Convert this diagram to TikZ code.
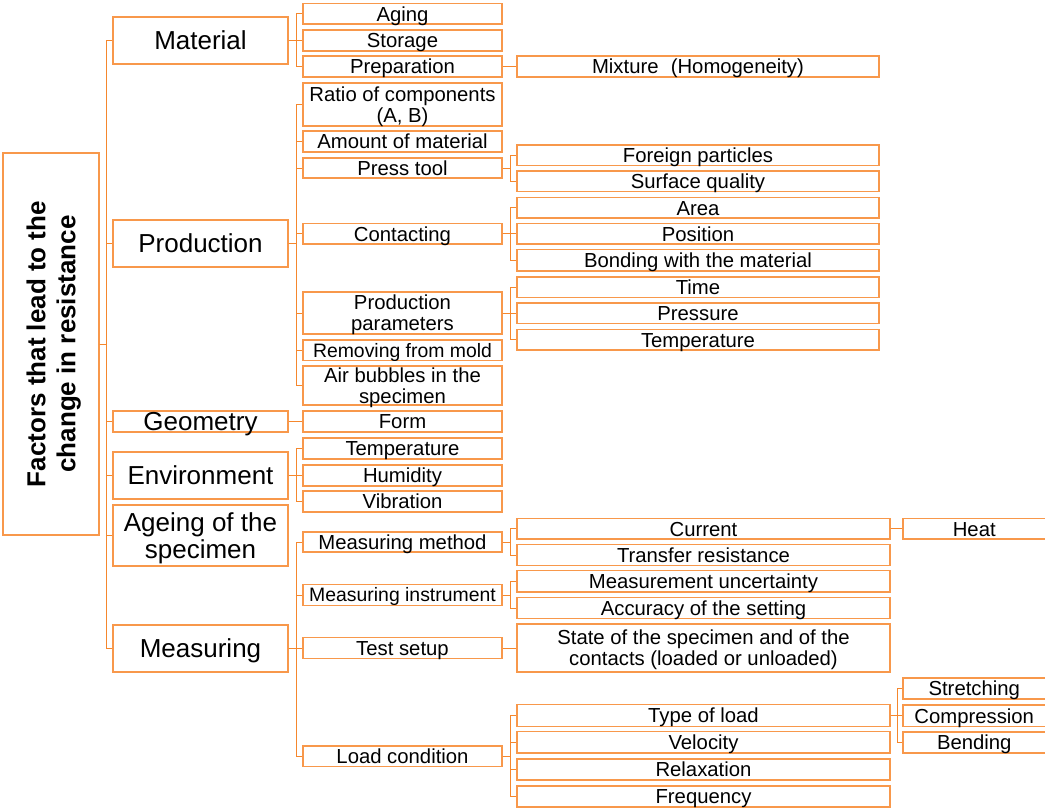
\documentclass[tikz,border=0pt]{standalone}
\usepackage{fontspec}
\setmainfont{Liberation Sans}
\definecolor{boxor}{RGB}{248,152,75}
\definecolor{lineor}{RGB}{245,135,45}
\newcommand{\mkbox}[7]{%
  \pgfmathsetmacro\bxcx{(#3+#4)/2}\pgfmathsetmacro\bxcy{(#5+#6)/2}%
  \pgfmathsetmacro\bxw{#4-#3}\pgfmathsetmacro\bxh{#6-#5}%
  \node[#1, minimum width=\bxw pt, minimum height=\bxh pt] (#2) at (\bxcx,\bxcy) {#7};}
\tikzset{
  boxbase/.style={draw=boxor, line width=1.2pt, inner sep=0pt, align=center},
  bxa/.style={boxbase, font=\fontsize{20.3}{21.3}\selectfont, text height=14.5pt, text depth=0pt},
  bxas/.style={bxa, font=\fontsize{19.4}{21.3}\selectfont, text height=13.9pt},
  bxa2/.style={bxa, text height=35.8pt},
  bxb/.style={boxbase, font=\fontsize{26}{27.5}\selectfont, text height=18.6pt, text depth=0pt},
  bxb2/.style={bxb, text height=46.1pt},
  rootbox/.style={boxbase},
  roottext/.style={rotate=90, inner sep=0pt, align=center, font=\bfseries\fontsize{26}{30}\selectfont, text height=48.6pt, text depth=0pt},
  conn/.style={draw=lineor, line width=1pt},
}
\begin{document}
\begin{tikzpicture}[x=1pt,y=-1pt]
\useasboundingbox (0,0) rectangle (1045,809);
% root
\mkbox{rootbox}{root}{3}{99}{153}{535}{}
\node[roottext] (rtxt) at (root.center) {Factors that lead to the\\change in resistance};
% level 1
\mkbox{bxb}{mat}{113}{288}{17}{64}{Material}
\mkbox{bxb}{prod}{113}{288}{220}{267}{Production}
\mkbox{bxb}{geo}{113}{288}{411}{432}{Geometry}
\mkbox{bxb}{env}{113}{288}{452}{499}{Environment}
\mkbox{bxb2}{age}{113}{288}{505}{566}{Ageing of the\\specimen}
\mkbox{bxb}{meas}{113}{288}{625}{672}{Measuring}
% level 2
\mkbox{bxa}{aging}{303}{502}{3.5}{24}{Aging}
\mkbox{bxa}{stor}{303}{502}{30}{51}{Storage}
\mkbox{bxa}{prep}{303}{502}{56}{77}{Preparation}
\mkbox{bxa2}{ratio}{303}{502}{83}{126}{Ratio of components\\(A, B)}
\mkbox{bxa}{amount}{303}{502}{131}{152}{Amount of material}
\mkbox{bxa}{press}{303}{502}{158}{178}{Press tool}
\mkbox{bxa}{cont}{303}{502}{223.5}{244}{Contacting}
\mkbox{bxa2}{pp}{303}{502}{292}{334}{Production\\parameters}
\mkbox{bxas}{rem}{303}{502}{340}{360.5}{Removing from mold}
\mkbox{bxa2}{air}{303}{502}{366}{405}{Air bubbles in the\\specimen}
\mkbox{bxa}{form}{303}{502}{411}{432}{Form}
\mkbox{bxa}{etemp}{303}{502}{438}{459}{Temperature}
\mkbox{bxa}{hum}{303}{502}{465}{486}{Humidity}
\mkbox{bxa}{vib}{303}{502}{491}{512}{Vibration}
\mkbox{bxa}{mm}{303}{502}{532}{552}{Measuring method}
\mkbox{bxas}{mi}{303}{502}{584.5}{605.5}{Measuring instrument}
\mkbox{bxa}{ts}{303}{502}{637.5}{658.5}{Test setup}
\mkbox{bxa}{lc}{303}{502}{746}{766.5}{Load condition}
% level 3
\mkbox{bxa}{mix}{517}{879}{56}{77}{Mixture\hspace{0.6em}(Homogeneity)}
\mkbox{bxa}{fp}{517}{879}{145}{165.5}{Foreign particles}
\mkbox{bxa}{sq}{517}{879}{171}{191.5}{Surface quality}
\mkbox{bxa}{area}{517}{879}{197.5}{218}{Area}
\mkbox{bxa}{pos}{517}{879}{223.5}{244}{Position}
\mkbox{bxa}{bond}{517}{879}{249.5}{271}{Bonding with the material}
\mkbox{bxa}{time}{517}{879}{277}{297.5}{Time}
\mkbox{bxa}{pres}{517}{879}{303}{323.5}{Pressure}
\mkbox{bxa}{ptemp}{517}{879}{329.5}{350}{Temperature}
\mkbox{bxa}{cur}{517}{890}{518.5}{539}{Current}
\mkbox{bxa}{tr}{517}{890}{544.5}{565.5}{Transfer resistance}
\mkbox{bxa}{mu}{517}{890}{570.5}{592}{Measurement uncertainty}
\mkbox{bxa}{acc}{517}{890}{597.5}{618.5}{Accuracy of the setting}
\mkbox{bxa2}{state}{517}{890}{624}{672}{State of the specimen and of the\\contacts (loaded or unloaded)}
\mkbox{bxa}{tol}{517}{890}{704.5}{726.5}{Type of load}
\mkbox{bxa}{vel}{517}{890}{731.5}{753}{Velocity}
\mkbox{bxa}{rel}{517}{890}{759}{780}{Relaxation}
\mkbox{bxa}{freq}{517}{890}{786}{807}{Frequency}
% level 4
\mkbox{bxa}{heat}{903}{1045.5}{518.5}{539}{Heat}
\mkbox{bxa}{str}{903}{1045.5}{678}{699}{Stretching}
\mkbox{bxa}{comp}{903}{1045.5}{705}{726.5}{Compression}
\mkbox{bxa}{bend}{903}{1045.5}{732}{753}{Bending}
% connectors
\foreach \c in {mat,prod,geo,env,age,meas}
  \draw[conn] (root.east) -- ++(7,0) |- (\c.west);
\foreach \c in {aging,stor,prep}
  \draw[conn] (mat.east) -- ++(7.7,0) |- (\c.west);
\foreach \c in {ratio,amount,press,cont,pp,rem,air}
  \draw[conn] (prod.east) -- ++(7.7,0) |- (\c.west);
\draw[conn] (geo.east) -- (form.west);
\foreach \c in {etemp,hum,vib}
  \draw[conn] (env.east) -- ++(7.7,0) |- (\c.west);
\foreach \c in {mm,mi,ts,lc}
  \draw[conn] (meas.east) -- ++(7.7,0) |- (\c.west);
\draw[conn] (prep.east) -- (mix.west);
\foreach \c in {fp,sq}
  \draw[conn] (press.east) -- ++(8,0) |- (\c.west);
\foreach \c in {area,pos,bond}
  \draw[conn] (cont.east) -- ++(8,0) |- (\c.west);
\foreach \c in {time,pres,ptemp}
  \draw[conn] (pp.east) -- ++(8,0) |- (\c.west);
\foreach \c in {cur,tr}
  \draw[conn] (mm.east) -- ++(8,0) |- (\c.west);
\foreach \c in {mu,acc}
  \draw[conn] (mi.east) -- ++(8,0) |- (\c.west);
\draw[conn] (ts.east) -- (state.west);
\foreach \c in {tol,vel,rel,freq}
  \draw[conn] (lc.east) -- ++(8,0) |- (\c.west);
\draw[conn] (cur.east) -- (heat.west);
\foreach \c in {str,comp,bend}
  \draw[conn] (tol.east) -- ++(7,0) |- (\c.west);
\end{tikzpicture}
\end{document}
